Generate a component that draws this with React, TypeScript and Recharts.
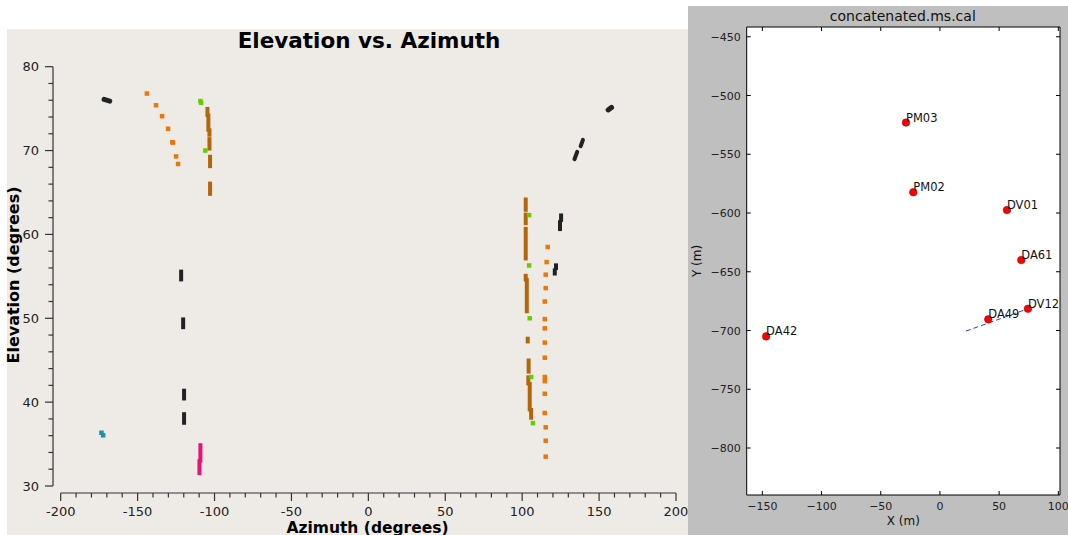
import React from 'react';
import { ScatterChart, Scatter, XAxis, YAxis, ReferenceLine, CartesianGrid } from 'recharts';

const FONT = "'DejaVu Sans', 'Liberation Sans', sans-serif";

// ---------------- Left panel: Elevation vs. Azimuth ----------------
const azimuthTicks = [-200, -190, -180, -170, -160, -150, -140, -130, -120, -110, -100, -90, -80, -70, -60, -50, -40, -30, -20, -10, 0, 10, 20, 30, 40, 50, 60, 70, 80, 90, 100, 110, 120, 130, 140, 150, 160, 170, 180, 190, 200];
const azimuthLabels = [-200, -150, -100, -50, 0, 50, 100, 150, 200];
const elevationTicks = [30, 32, 34, 36, 38, 40, 42, 44, 46, 48, 50, 52, 54, 56, 58, 60, 62, 64, 66, 68, 70, 72, 74, 76, 78, 80];
const elevationLabels = [30, 40, 50, 60, 70, 80];

const orangePoints = [
  { az: -144.0, el: 76.8 }, { az: -138.0, el: 75.4 }, { az: -134.1, el: 74.1 }, { az: -130.2, el: 72.6 },
  { az: -127.5, el: 71.0 }, { az: -127.0, el: 70.95 }, { az: -125.0, el: 69.3 }, { az: -123.7, el: 68.4 },
  { az: 116.6, el: 58.5 }, { az: 115.9, el: 56.7 }, { az: 115.3, el: 55.2 }, { az: 115.3, el: 53.6 },
  { az: 114.7, el: 52.0 }, { az: 114.7, el: 49.9 }, { az: 114.7, el: 48.8 }, { az: 114.7, el: 47.1 },
  { az: 114.7, el: 45.3 }, { az: 114.7, el: 43.0 }, { az: 114.7, el: 42.5 }, { az: 114.7, el: 41.0 },
  { az: 114.7, el: 38.7 }, { az: 115.3, el: 37.0 }, { az: 115.3, el: 35.4 }, { az: 115.3, el: 33.5 },
];
const greenPoints = [
  { az: -109.2, el: 75.9 }, { az: -108.7, el: 75.7 }, { az: -106.0, el: 70.0 },
  { az: 104.5, el: 62.3 }, { az: 104.5, el: 56.3 }, { az: 104.9, el: 50.0 }, { az: 105.8, el: 43.0 }, { az: 107.0, el: 37.5 },
];
const tealPoints = [{ az: -173.5, el: 36.35 }, { az: -172.4, el: 36.05 }];

const brownTracks = [
  { az1: -104.6, el1: 75.2, az2: -104.6, el2: 74.0 },
  { az1: -104.0, el1: 74.4, az2: -104.0, el2: 72.25 },
  { az1: -103.3, el1: 72.65, az2: -103.3, el2: 71.65 },
  { az1: -103.3, el1: 71.6, az2: -103.3, el2: 70.0 },
  { az1: -102.9, el1: 69.5, az2: -102.9, el2: 67.9 },
  { az1: -102.9, el1: 66.3, az2: -102.9, el2: 64.6 },
  { az1: 102.3, el1: 64.4, az2: 102.3, el2: 62.7 },
  { az1: 102.3, el1: 62.6, az2: 102.3, el2: 61.1 },
  { az1: 102.3, el1: 60.9, az2: 102.3, el2: 56.9 },
  { az1: 102.3, el1: 55.3, az2: 102.3, el2: 54.4 },
  { az1: 103.0, el1: 54.8, az2: 103.0, el2: 50.6 },
  { az1: 103.6, el1: 47.8, az2: 103.6, el2: 47.0 },
  { az1: 104.2, el1: 45.2, az2: 104.2, el2: 43.4 },
  { az1: 104.0, el1: 43.2, az2: 104.0, el2: 42.0 },
  { az1: 104.9, el1: 42.4, az2: 104.9, el2: 38.9 },
  { az1: 105.8, el1: 39.3, az2: 105.8, el2: 37.9 },
];
const blackTracks = [
  { az1: -121.7, el1: 55.8, az2: -121.7, el2: 54.4 },
  { az1: -120.4, el1: 50.1, az2: -120.4, el2: 48.7 },
  { az1: -119.8, el1: 41.6, az2: -119.8, el2: 40.2 },
  { az1: -119.8, el1: 38.8, az2: -119.8, el2: 37.3 },
  { az1: 121.2, el1: 55.95, az2: 121.2, el2: 55.1 },
  { az1: 122.0, el1: 56.55, az2: 122.0, el2: 55.75 },
  { az1: 124.6, el1: 61.7, az2: 124.6, el2: 60.4 },
  { az1: 125.3, el1: 62.5, az2: 125.3, el2: 61.5 },
];
const blackStreaks = [
  { az1: 134.0, el1: 68.97, az2: 135.8, el2: 69.85 },
  { az1: 138.0, el1: 70.52, az2: 139.5, el2: 71.28 },
];
const blackBlobs = [
  { az1: -171.8, el1: 76.1, az2: -168.1, el2: 75.9 },
  { az1: 155.9, el1: 74.85, az2: 158.1, el2: 75.15 },
];
const pinkTracks = [
  { az1: -109.2, el1: 35.1, az2: -109.2, el2: 32.8 },
  { az1: -109.8, el1: 33.2, az2: -109.8, el2: 31.3 },
];

const COLORS = {
  orange: '#E8780C',
  green: '#66CC00',
  teal: '#1B93A6',
  brown: '#B3650A',
  black: '#222222',
  pink: '#E8107A',
};

// ---------------- Right panel: concatenated.ms.cal ----------------
const antennaNames = ['PM03', 'PM02', 'DV01', 'DA61', 'DV12', 'DA49', 'DA42'];
const antennaX = [-28.7, -22.5, 56.6, 68.7, 74.3, 40.8, -146.8];
const antennaY = [-523, -582.3, -597.5, -640, -681.5, -690.5, -705];
const baselineX = [22, 74];
const baselineY = [-700.5, -681.6];
const xmTicks = [-150, -100, -50, 0, 50, 100];
const ymTicks = [-800, -750, -700, -650, -600, -550, -500, -450];

const antennaData = antennaNames.map((name, i) => ({ name, x: antennaX[i], y: antennaY[i] }));
const baselineData = baselineX.map((x, i) => ({ x, y: baselineY[i] }));

const minus = (v: number) => (v < 0 ? `\u2212${Math.abs(v)}` : `${v}`);

const Square = (color: string) => (props: any) => {
  const { cx, cy } = props;
  if (cx == null || cy == null) return <g />;
  return <rect x={cx - 2.25} y={cy - 2.25} width={4.5} height={4.5} fill={color} />;
};

const AzTick = (props: any) => {
  const { x, y, payload } = props;
  const major = azimuthLabels.includes(payload.value);
  return (
    <g>
      <line x1={x} y1={y} x2={x} y2={y + (major ? 8 : 4.5)} stroke="#333" strokeWidth={1.2} />
      {major && (
        <text x={x} y={y + 22.5} textAnchor="middle" fontSize={13} fill="#222" fontFamily={FONT}>
          {payload.value}
        </text>
      )}
    </g>
  );
};

const ElTick = (props: any) => {
  const { x, y, payload } = props;
  const major = elevationLabels.includes(payload.value);
  return (
    <g>
      <line x1={x - (major ? 8 : 4.5)} y1={y} x2={x} y2={y} stroke="#333" strokeWidth={1.2} />
      {major && (
        <text x={x - 14} y={y + 4.7} textAnchor="end" fontSize={13} fill="#222" fontFamily={FONT}>
          {payload.value}
        </text>
      )}
    </g>
  );
};

const BottomTick = (props: any) => {
  const { x, y, payload } = props;
  return (
    <g>
      <line x1={x} y1={y} x2={x} y2={y - 4} stroke="#000" strokeWidth={1} />
      <text x={x} y={y + 14.5} textAnchor="middle" fontSize={11} fill="#222" fontFamily={FONT}>
        {minus(payload.value)}
      </text>
    </g>
  );
};
const TopTick = (props: any) => {
  const { x, y } = props;
  return <line x1={x} y1={y} x2={x} y2={y + 4} stroke="#000" strokeWidth={1} />;
};
const LeftTick = (props: any) => {
  const { x, y, payload } = props;
  return (
    <g>
      <line x1={x} y1={y} x2={x + 4} y2={y} stroke="#000" strokeWidth={1} />
      <text x={x - 6} y={y + 4} textAnchor="end" fontSize={11} fill="#222" fontFamily={FONT}>
        {minus(payload.value)}
      </text>
    </g>
  );
};
const RightTick = (props: any) => {
  const { x, y } = props;
  return <line x1={x - 4} y1={y} x2={x} y2={y} stroke="#000" strokeWidth={1} />;
};

const AntennaShape = (props: any) => {
  const { cx, cy, payload } = props;
  if (cx == null || cy == null) return <g />;
  return (
    <g>
      <circle cx={cx} cy={cy} r={3.8} fill="#FF0000" stroke="#8B0000" strokeWidth={0.5} />
      <text x={cx} y={cy - 1} fontSize={11.5} fill="#111" fontFamily={FONT}>
        {payload.name}
      </text>
    </g>
  );
};

const renderTracks = (tracks: any[], color: string, prefix: string, width = 4, cap: 'butt' | 'round' = 'butt') =>
  tracks.map((t, i) => (
    <ReferenceLine
      key={`${prefix}${i}`}
      segment={[{ x: t.az1, y: t.el1 }, { x: t.az2, y: t.el2 }]}
      stroke={color}
      strokeWidth={width}
      strokeLinecap={cap}
    />
  ));

export default function App() {
  return (
    <div style={{ position: 'absolute', left: 0, top: 0, width: 1068, height: 535, background: '#fff', overflow: 'hidden', fontFamily: FONT }}>
      <div style={{ position: 'absolute', left: 7, top: 29, width: 681, height: 506, background: '#EEEBE6' }}>
        <ScatterChart width={681} height={506} margin={{ top: 37.7, right: 12, bottom: 0, left: 6 }}>
          <XAxis
            type="number"
            dataKey="az"
            domain={[-200, 200]}
            ticks={azimuthTicks}
            interval={0}
            padding={{ left: 7.7, right: 0 }}
            axisLine={false}
            tickLine={false}
            tickSize={0}
            tickMargin={0}
            height={42}
            tick={AzTick}
            allowDataOverflow
          />
          <YAxis
            type="number"
            dataKey="el"
            domain={[30, 80]}
            ticks={elevationTicks}
            interval={0}
            padding={{ top: 0, bottom: 7 }}
            axisLine={false}
            tickLine={false}
            tickSize={0}
            tickMargin={0}
            width={40}
            tick={ElTick}
            allowDataOverflow
          />
          <ReferenceLine segment={[{ x: -205, y: 30 }, { x: -205, y: 80 }]} stroke="#333" strokeWidth={1.2} ifOverflow="visible" />
          <ReferenceLine segment={[{ x: -200, y: 29.165 }, { x: 200, y: 29.165 }]} stroke="#333" strokeWidth={1.2} ifOverflow="visible" />
          {renderTracks(brownTracks, COLORS.brown, 'br')}
          {renderTracks(blackTracks, COLORS.black, 'bk')}
          {renderTracks(blackStreaks, COLORS.black, 'bs', 4, 'round')}
          {renderTracks(blackBlobs, COLORS.black, 'bb', 5, 'round')}
          {renderTracks(pinkTracks, COLORS.pink, 'pk')}
          <Scatter data={orangePoints} fill={COLORS.orange} shape={Square(COLORS.orange)} isAnimationActive={false} />
          <Scatter data={greenPoints} fill={COLORS.green} shape={Square(COLORS.green)} isAnimationActive={false} />
          <Scatter data={tealPoints} fill={COLORS.teal} shape={Square(COLORS.teal)} isAnimationActive={false} />
        </ScatterChart>
      </div>

      <div style={{ position: 'absolute', left: 688, top: 6, width: 380, height: 529, background: '#BFBFBF' }}>
        <ScatterChart width={380} height={529} margin={{ top: 20, right: 7, bottom: 0, left: 0 }}>
          <CartesianGrid fill="#FFFFFF" horizontal={false} vertical={false} stroke="none" />
          <XAxis
            type="number"
            dataKey="x"
            domain={[-163.2, 101.4]}
            ticks={xmTicks}
            interval={0}
            height={40}
            tickSize={0}
            tickMargin={0}
            tickLine={false}
            axisLine={{ stroke: '#000', strokeWidth: 1 }}
            tick={BottomTick}
            allowDataOverflow
          />
          <XAxis
            xAxisId="top"
            orientation="top"
            type="number"
            dataKey="x"
            domain={[-163.2, 101.4]}
            ticks={xmTicks}
            interval={0}
            height={1}
            tickSize={0}
            tickMargin={0}
            tickLine={false}
            axisLine={{ stroke: '#000', strokeWidth: 1 }}
            tick={TopTick}
            allowDataOverflow
          />
          <YAxis
            type="number"
            dataKey="y"
            domain={[-840, -441.7]}
            ticks={ymTicks}
            interval={0}
            width={58.7}
            tickSize={0}
            tickMargin={0}
            tickLine={false}
            axisLine={{ stroke: '#000', strokeWidth: 1 }}
            tick={LeftTick}
            allowDataOverflow
          />
          <YAxis
            yAxisId="right"
            orientation="right"
            type="number"
            dataKey="y"
            domain={[-840, -441.7]}
            ticks={ymTicks}
            interval={0}
            width={1}
            tickSize={0}
            tickMargin={0}
            tickLine={false}
            axisLine={{ stroke: '#000', strokeWidth: 1 }}
            tick={RightTick}
            allowDataOverflow
          />
          <Scatter
            data={baselineData}
            line={{ stroke: '#3535F0', strokeWidth: 1, strokeDasharray: '5 3' }}
            shape={() => <g />}
            isAnimationActive={false}
          />
          <Scatter data={antennaData} fill="#FF0000" shape={AntennaShape} isAnimationActive={false} />
        </ScatterChart>
      </div>

      <svg width={1068} height={535} style={{ position: 'absolute', left: 0, top: 0, pointerEvents: 'none' }}>
        <text x={369} y={48.3} textAnchor="middle" fontFamily={FONT} fontWeight="bold" fontSize={21.5} fill="#000">
          Elevation vs. Azimuth
        </text>
        <text transform="translate(19,275) rotate(-90)" textAnchor="middle" fontFamily={FONT} fontWeight="bold" fontSize={16} fill="#000">
          Elevation (degrees)
        </text>
        <text x={367.5} y={532.5} textAnchor="middle" fontFamily={FONT} fontWeight="bold" fontSize={15.5} fill="#000">
          Azimuth (degrees)
        </text>
        <text x={902.8} y={21} textAnchor="middle" fontFamily={FONT} fontSize={14} fill="#111">
          concatenated.ms.cal
        </text>
        <text transform="translate(700.5,261) rotate(-90)" textAnchor="middle" fontFamily={FONT} fontSize={12} fill="#111">
          Y (m)
        </text>
        <text x={903.3} y={525} textAnchor="middle" fontFamily={FONT} fontSize={12} fill="#111">
          X (m)
        </text>
      </svg>
    </div>
  );
}
